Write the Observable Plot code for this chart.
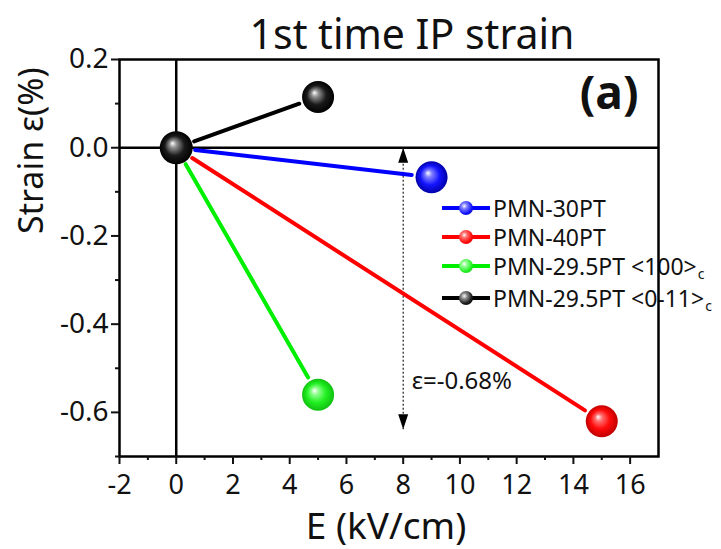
<!DOCTYPE html>
<html>
<head>
<meta charset="utf-8">
<script src="https://cdn.jsdelivr.net/npm/d3@7"></script>
<script src="https://cdn.jsdelivr.net/npm/@observablehq/plot@0.6"></script>
<style>
  html, body { margin: 0; padding: 0; background: white; }
  #wrap { position: relative; width: 721px; height: 549px; font-family: "Noto Sans", sans-serif; }
  #legend { position: absolute; left: 442px; top: 0; z-index: 0; }
  #chart { position: absolute; left: 0; top: 0; z-index: 1; }
  .row { position: absolute; left: 0; display: flex; align-items: center; white-space: nowrap; font-size: 23px; line-height: 24px; color: #111; height: 24px; }
  .row span { line-height: 24px; }
  .sw { position: relative; width: 48px; height: 24px; margin-right: 3px; }
  .sw .ln { position: absolute; left: 0; right: 0; top: 10px; height: 4px; }
  .sw .ball { position: absolute; left: 17px; top: 5px; width: 14px; height: 14px; border-radius: 50%; }
  sub { font-size: 14px; line-height: 0; vertical-align: -4px; margin-left: 1px; }
</style>
</head>
<body>
<div id="wrap">
  <div id="legend"></div>
  <div id="chart"></div>
</div>
<script>
// ---- data ----
const series = ["PMN-30PT", "PMN-40PT", "PMN-29.5PT <100>", "PMN-29.5PT <0-11>"];
const seriesSub = ["", "", "c", "c"];
const fieldEnd = [9, 15, 5, 5];          // E (kV/cm)
const strainEnd = [-0.067, -0.62, -0.56, 0.115]; // strain (%)
const fieldStart = [0, 0, 0, 0];
const strainStart = [0, 0, 0, 0];
const colors = ["#0000ff", "#ff0000", "#00ee00", "#000000"];
const xTicksMajor = [-2, 0, 2, 4, 6, 8, 10, 12, 14, 16];
const xTicksMinor = [-1, 1, 3, 5, 7, 9, 11, 13, 15];
const yTicksMajor = [-0.6, -0.4, -0.2, 0, 0.2];
const yTicksMinor = [-0.7, -0.5, -0.3, -0.1, 0.1];
const annoField = 8;
const annoStrainTop = 0;
const annoStrainBottom = -0.638;
const annoLabel = "ε=-0.68%";
const annoLabelField = 8.3;
const annoLabelStrain = -0.547;
const titleText = "1st time IP strain";
const panelLabel = "(a)";
const xLabel = "E (kV/cm)";
const yLabel = "Strain ε(%)";

// gradient stops per series: [highlight, light, base, dark]
const gradStops = [
  ["#ffffff", "#8080ff", "#1414ff", "#0000a8"],
  ["#ffffff", "#ff7070", "#ff0a0a", "#c00000"],
  ["#ffffff", "#90ff90", "#22f022", "#10c010"],
  ["#ffffff", "#909090", "#1a1a1a", "#000000"]
];

const segs = series.map((s, i) => ({
  s, x1: fieldStart[i], y1: strainStart[i], x2: fieldEnd[i], y2: strainEnd[i],
  color: colors[i], grad: `url(#g${i})`
}));
const origin = [{x: fieldStart[3], y: strainStart[3], grad: "url(#g3)"}];

const headShape = {
  draw(context, l, r) {
    context.moveTo(0, -l);
    context.lineTo(-r, 0);
    context.lineTo(r, 0);
    context.closePath();
  }
};

const plot = Plot.plot({
  width: 721,
  height: 549,
  marginLeft: 119,
  marginRight: 63,
  marginTop: 59,
  marginBottom: 93,
  style: {fontFamily: "Noto Sans, sans-serif", color: "#111", background: "transparent", overflow: "visible"},
  x: {domain: [-2, 17]},
  y: {domain: [-0.7, 0.2]},
  color: {type: "identity"},
  marks: [
    Plot.ruleX([0], {stroke: "black", strokeWidth: 2.5}),
    Plot.ruleY([0], {stroke: "black", strokeWidth: 2.5}),
    Plot.frame({stroke: "black", strokeWidth: 2.5}),
    Plot.axisX({ticks: xTicksMajor, tickSize: 8, tickPadding: 10, fontSize: 27, strokeWidth: 2, tickFormat: d => String(d), label: null}),
    Plot.axisX({ticks: xTicksMinor, tickSize: 4, strokeWidth: 2, text: null, label: null}),
    Plot.axisY({ticks: yTicksMajor, tickSize: 8, tickPadding: 3, fontSize: 28, strokeWidth: 2, tickFormat: d => d.toFixed(1), label: null}),
    Plot.axisY({ticks: yTicksMinor, tickSize: 4, strokeWidth: 2, text: null, label: null}),
    // annotation double arrow
    Plot.link([0], {x1: () => annoField, x2: () => annoField, y1: () => annoStrainTop, y2: () => annoStrainBottom,
      stroke: "#222", strokeWidth: 1.2, strokeDasharray: "2,2"}),
    Plot.vector([0], {x: () => annoField, y: () => annoStrainTop, length: 15, r: 5, rotate: 0, anchor: "end", shape: headShape, fill: "black", stroke: "none"}),
    Plot.vector([0], {x: () => annoField, y: () => annoStrainBottom, length: 15, r: 5, rotate: 180, anchor: "end", shape: headShape, fill: "black", stroke: "none"}),
    Plot.text([annoLabel], {x: () => annoLabelField, y: () => annoLabelStrain, text: d => d, textAnchor: "start", lineAnchor: "bottom", fontSize: 24, fill: "#111"}),
    // series lines (gapped at the balls)
    Plot.arrow(segs, {x1: "x1", y1: "y1", x2: "x2", y2: "y2", stroke: "color", strokeWidth: 4, headLength: 0, insetStart: 19, insetEnd: 20}),
    // balls
    Plot.dot(segs, {x: "x2", y: "y2", r: 16, fill: "grad", stroke: "none"}),
    Plot.dot(origin, {x: "x", y: "y", r: 16.5, fill: "grad", stroke: "none"}),
    // texts
    Plot.text([titleText], {frameAnchor: "top", text: d => d, dx: 23, dy: -11, lineAnchor: "bottom", fontSize: 41, fill: "#111"}),
    Plot.text([panelLabel], {frameAnchor: "top-right", text: d => d, textAnchor: "end", dx: -20, dy: 49, lineAnchor: "bottom", fontSize: 46, fontWeight: "bold", fill: "#111"}),
    Plot.text([xLabel], {frameAnchor: "bottom", text: d => d, dx: -3, dy: 82, lineAnchor: "bottom", fontSize: 37, fill: "#111"}),
    Plot.text([yLabel], {frameAnchor: "left", text: d => d, rotate: -90, dx: -77, dy: -24, lineAnchor: "bottom", fontSize: 34, fill: "#111"})
  ]
});

// gradients for the shaded spheres
const defs = d3.select(plot).insert("defs", ":first-child");
gradStops.forEach((st, i) => {
  const g = defs.append("radialGradient").attr("id", `g${i}`)
    .attr("cx", "50%").attr("cy", "50%").attr("r", "50%").attr("fx", "38%").attr("fy", "36%");
  [[0, st[0]], [0.22, st[1]], [0.6, st[2]], [1, st[3]]].forEach(([o, c]) =>
    g.append("stop").attr("offset", o).attr("stop-color", c));
});

document.getElementById("chart").appendChild(plot);

// legend (drawn beneath the chart svg so the frame crosses it like the reference)
const rowTops = [196, 225, 254, 286];
const legend = document.getElementById("legend");
series.forEach((s, i) => {
  const st = gradStops[i];
  const row = document.createElement("div");
  row.className = "row";
  row.style.top = rowTops[i] + "px";
  row.innerHTML = `<div class="sw"><div class="ln" style="background:${colors[i]}"></div>` +
    `<div class="ball" style="background: radial-gradient(circle at 38% 36%, ${st[0]} 0%, ${st[1]} 22%, ${st[2]} 60%, ${st[3]} 100%)"></div></div>` +
    `<span>${s.replace(/</g, "&lt;").replace(/>/g, "&gt;")}${seriesSub[i] ? `<sub>${seriesSub[i]}</sub>` : ""}</span>`;
  legend.appendChild(row);
});
</script>
</body>
</html>
